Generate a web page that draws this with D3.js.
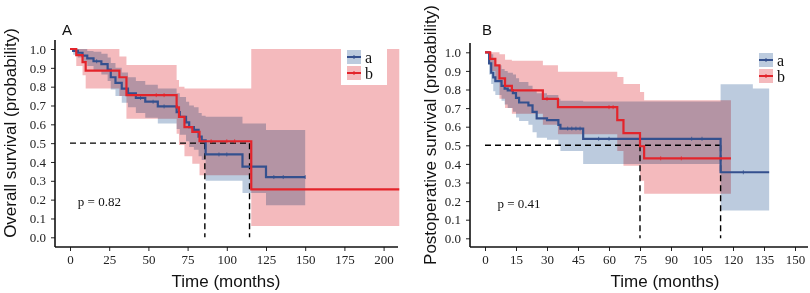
<!DOCTYPE html>
<html>
<head>
<meta charset="utf-8">
<script src="https://cdn.jsdelivr.net/npm/d3@7"></script>
<style>
  body { margin: 0; background: #fff; }
  svg { display: block; }
</style>
</head>
<body>
<div id="chart"></div>
<script>
// ---- data ----
// panel A, group a
const timeA_a = [0, 2, 5, 8, 11, 15, 20, 24, 26, 29, 33, 37, 42, 48, 56, 68, 70, 74, 76, 79, 82, 84, 86.5, 110, 125];
const survA_a = [1, 0.99, 0.98, 0.965, 0.95, 0.935, 0.92, 0.89, 0.85, 0.82, 0.79, 0.765, 0.74, 0.72, 0.695, 0.665, 0.64, 0.61, 0.585, 0.57, 0.535, 0.515, 0.44, 0.375, 0.32];
const lowA_a  = [1, 0.97, 0.955, 0.93, 0.91, 0.885, 0.865, 0.83, 0.785, 0.75, 0.715, 0.69, 0.66, 0.635, 0.605, 0.575, 0.545, 0.51, 0.48, 0.465, 0.43, 0.41, 0.30, 0.235, 0.17];
const upA_a   = [1, 1, 1, 1, 0.99, 0.985, 0.975, 0.955, 0.925, 0.9, 0.875, 0.85, 0.83, 0.81, 0.79, 0.765, 0.745, 0.72, 0.70, 0.69, 0.66, 0.645, 0.64, 0.605, 0.57];
const endA_a = 150;
const censA_a = [17, 45, 53, 60, 95, 100, 130, 136, 150];
// panel A, group b
const timeA_b = [0, 4, 8, 10, 31.5, 36, 68, 69.5, 73, 78, 82.6, 115.6];
const survA_b = [1, 0.968, 0.93, 0.885, 0.85, 0.755, 0.69, 0.64, 0.585, 0.56, 0.51, 0.255];
const lowA_b  = [1, 0.91, 0.86, 0.79, 0.75, 0.63, 0.55, 0.49, 0.43, 0.39, 0.33, 0.06];
const upA_b   = [1, 1, 1, 1, 0.96, 0.915, 0.835, 0.80, 0.79, 0.79, 0.79, 1];
const endA_b = 210;
const censA_b = [55, 60, 90, 100, 105];
// panel B, group a
const timeB_a = [0, 2, 3, 4, 5, 8, 9.5, 11, 13.5, 15, 16.5, 21, 23, 25, 30, 35.5, 36.5, 47.5, 114, 129.6];
const survB_a = [1, 0.94, 0.89, 0.865, 0.845, 0.82, 0.805, 0.795, 0.78, 0.755, 0.73, 0.715, 0.68, 0.645, 0.635, 0.61, 0.59, 0.535, 0.355, 0.355];
const lowB_a  = [1, 0.88, 0.83, 0.79, 0.77, 0.74, 0.72, 0.70, 0.68, 0.65, 0.63, 0.61, 0.57, 0.54, 0.53, 0.50, 0.47, 0.40, 0.15, 0.15];
const upB_a   = [1, 1, 0.99, 0.96, 0.93, 0.91, 0.90, 0.89, 0.88, 0.86, 0.84, 0.82, 0.80, 0.78, 0.77, 0.75, 0.74, 0.735, 0.828, 0.805];
const endB_a = 137.5;
const censB_a = [40, 42, 44, 46, 55, 60, 100, 105, 125];
// panel B, group b
const timeB_b = [0, 2.5, 5, 7, 9.7, 13, 28, 35.3, 64, 67, 75, 77];
const survB_b = [1, 0.965, 0.93, 0.86, 0.82, 0.795, 0.75, 0.705, 0.635, 0.565, 0.495, 0.43];
const lowB_b  = [1, 0.9, 0.84, 0.75, 0.70, 0.67, 0.61, 0.56, 0.47, 0.39, 0.31, 0.24];
const upB_b   = [1, 1, 1, 0.99, 0.96, 0.955, 0.93, 0.895, 0.867, 0.83, 0.786, 0.742];
const endB_b = 119;
const censB_b = [30, 60, 62, 85, 95];

const mediansA = [86, 114.5];
const mediansB = [75, 114];
const xTicksA = [0, 25, 50, 75, 100, 125, 150, 175, 200];
const xTicksB = [0, 15, 30, 45, 60, 75, 90, 105, 120, 135, 150];
const yTicks = [0, 0.1, 0.2, 0.3, 0.4, 0.5, 0.6, 0.7, 0.8, 0.9, 1.0];
const groups = ["a", "b"];

const lineColor = {a: "#34508e", b: "#e3242b"};
const bandColor = {a: "#bccbde", b: "#f4babd"};

const svg = d3.select("#chart").append("svg")
    .attr("width", 810)
    .attr("height", 293);

function steps(time, surv, low, up, end) {
    const pts = time.map((t, i) => ({t: t, s: surv[i], lo: low[i], hi: up[i]}));
    const last = pts[pts.length - 1];
    pts.push({t: end, s: last.s, lo: last.lo, hi: last.hi});
    return pts;
}

function drawPanel(p) {
    const x = d3.scaleLinear().domain(p.xDomain).range(p.xRange);
    const y = d3.scaleLinear().domain([0, 1]).range(p.yRange);
    const g = svg.append("g");

    const series = [
        {key: "a", pts: steps(...p.a), cens: p.censA},
        {key: "b", pts: steps(...p.b), cens: p.censB}
    ];

    // confidence bands
    const area = d3.area()
        .curve(d3.curveStepAfter)
        .x(d => x(d.t))
        .y0(d => y(d.lo))
        .y1(d => y(d.hi));
    series.slice().reverse().forEach(s => {
        g.append("path")
            .datum(s.pts)
            .attr("d", area)
            .attr("fill", bandColor[s.key])
            .style("mix-blend-mode", "multiply");
    });

    // median lines
    const mMax = d3.max(p.medians);
    g.append("line")
        .attr("x1", x(0)).attr("x2", x(mMax))
        .attr("y1", y(0.5)).attr("y2", y(0.5))
        .attr("stroke", "#000").attr("stroke-width", 1.4)
        .attr("stroke-dasharray", "6,4");
    p.medians.forEach(m => {
        g.append("line")
            .attr("x1", x(m)).attr("x2", x(m))
            .attr("y1", y(0.5)).attr("y2", y(0))
            .attr("stroke", "#000").attr("stroke-width", 1.4)
            .attr("stroke-dasharray", "6,4");
    });

    // survival curves
    const line = d3.line()
        .curve(d3.curveStepAfter)
        .x(d => x(d.t))
        .y(d => y(d.s));
    series.forEach(s => {
        g.append("path")
            .datum(s.pts)
            .attr("d", line)
            .attr("fill", "none")
            .attr("stroke", lineColor[s.key])
            .attr("stroke-width", 2.2);
        // censor marks
        const bis = d3.bisector(d => d.t).right;
        s.cens.forEach(c => {
            const pt = s.pts[Math.max(0, bis(s.pts, c) - 1)];
            g.append("line")
                .attr("x1", x(c)).attr("x2", x(c))
                .attr("y1", y(pt.s) - 2).attr("y2", y(pt.s) + 2)
                .attr("stroke", lineColor[s.key])
                .attr("stroke-width", 0.8);
        });
    });

    // axes
    const xAxis = g.append("g")
        .attr("transform", `translate(0,${p.axisY})`)
        .call(d3.axisBottom(x).tickValues(p.xTicks).tickSize(4).tickPadding(4));
    xAxis.select(".domain").remove();
    const yAxis = g.append("g")
        .attr("transform", `translate(${p.axisX},0)`)
        .call(d3.axisLeft(y).tickValues(yTicks).tickFormat(d3.format(".1f")).tickSize(4).tickPadding(5));
    yAxis.select(".domain").remove();
    g.selectAll(".tick line").attr("stroke", "#222").attr("stroke-width", 1);
    g.selectAll(".tick text")
        .attr("fill", "#222")
        .style("font-family", "'Liberation Serif', 'DejaVu Serif', serif")
        .style("font-size", "13px");

    g.append("line")
        .attr("x1", p.axisX).attr("x2", p.axisRight)
        .attr("y1", p.axisY).attr("y2", p.axisY)
        .attr("stroke", "#111").attr("stroke-width", 1.6);
    g.append("line")
        .attr("x1", p.axisX).attr("x2", p.axisX)
        .attr("y1", p.axisTop).attr("y2", p.axisY)
        .attr("stroke", "#111").attr("stroke-width", 1.6);

    // titles
    g.append("text")
        .attr("x", p.xTitleX).attr("y", 287)
        .attr("text-anchor", "middle")
        .style("font-family", "'Liberation Sans', Arial, sans-serif")
        .style("font-size", "17px")
        .attr("fill", "#111")
        .text("Time (months)");
    g.append("text")
        .attr("transform", `translate(${p.yTitleX},${p.yTitleY}) rotate(-90)`)
        .attr("text-anchor", "middle")
        .style("font-family", "'Liberation Sans', Arial, sans-serif")
        .style("font-size", "17px")
        .attr("fill", "#111")
        .text(p.yTitle);
    g.append("text")
        .attr("x", p.tagX).attr("y", 35)
        .style("font-family", "'Liberation Sans', Arial, sans-serif")
        .style("font-size", "15px")
        .attr("fill", "#111")
        .text(p.tag);
    g.append("text")
        .attr("x", x(p.pPos[0])).attr("y", y(p.pPos[1]))
        .attr("dy", "0.35em")
        .style("font-family", "'Liberation Serif', 'DejaVu Serif', serif")
        .style("font-size", "13px")
        .attr("fill", "#111")
        .text(p.pText);

    // legend
    const lg = g.append("g").attr("transform", `translate(${p.legend[0]},${p.legend[1]})`);
    lg.append("rect")
        .attr("x", -6).attr("y", -1)
        .attr("width", 46).attr("height", 36)
        .attr("fill", "#fff");
    groups.forEach((k, i) => {
        const row = lg.append("g").attr("transform", `translate(0,${i * 16})`);
        row.append("rect")
            .attr("width", 14).attr("height", 14)
            .attr("fill", bandColor[k]);
        row.append("line")
            .attr("x1", 0).attr("x2", 14)
            .attr("y1", 7).attr("y2", 7)
            .attr("stroke", lineColor[k]).attr("stroke-width", 2);
        row.append("line")
            .attr("x1", 7).attr("x2", 7)
            .attr("y1", 5).attr("y2", 9)
            .attr("stroke", lineColor[k]).attr("stroke-width", 1);
        row.append("text")
            .attr("x", 18).attr("y", 7)
            .attr("dy", "0.35em")
            .style("font-family", "'Liberation Serif', 'DejaVu Serif', serif")
            .style("font-size", "16px")
            .attr("fill", "#111")
            .text(k);
    });
}

drawPanel({
    a: [timeA_a, survA_a, lowA_a, upA_a, endA_a],
    b: [timeA_b, survA_b, lowA_b, upA_b, endA_b],
    censA: censA_a, censB: censA_b,
    medians: mediansA,
    xDomain: [0, 200], xRange: [70, 383.6],
    yRange: [237.3, 49],
    xTicks: xTicksA,
    axisX: 55, axisY: 247, axisTop: 40, axisRight: 398,
    xTitleX: 226, yTitleX: 16, yTitleY: 133,
    yTitle: "Overall survival (probability)",
    tag: "A", tagX: 62,
    pText: "p = 0.82", pPos: [5, 0.19],
    legend: [347, 50]
});

drawPanel({
    a: [timeB_a, survB_a, lowB_a, upB_a, endB_a],
    b: [timeB_b, survB_b, lowB_b, upB_b, endB_b],
    censA: censB_a, censB: censB_b,
    medians: mediansB,
    xDomain: [0, 150], xRange: [485, 795],
    yRange: [238.3, 52.3],
    xTicks: xTicksB,
    axisX: 470, axisY: 247, axisTop: 43, axisRight: 808,
    xTitleX: 665, yTitleX: 436, yTitleY: 135,
    yTitle: "Postoperative survival (probability)",
    tag: "B", tagX: 482,
    pText: "p = 0.41", pPos: [6, 0.19],
    legend: [759, 53]
});
</script>
</body>
</html>
